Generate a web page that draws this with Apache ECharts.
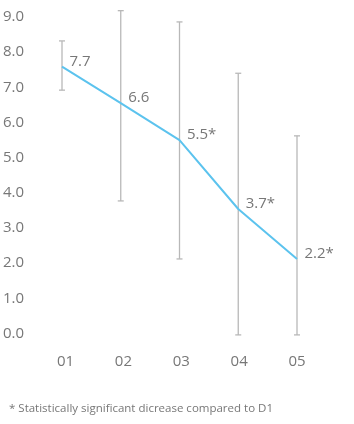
<!DOCTYPE html>
<html>
<head>
<meta charset="utf-8">
<script src="https://cdn.jsdelivr.net/npm/echarts@6/dist/echarts.min.js"></script>
<style>
html,body{margin:0;padding:0;background:#fff;}
#chart{width:354px;height:424px;}
</style>
</head>
<body>
<div id="chart"></div>
<script>
var categories = ['01', '02', '03', '04', '05'];
var means = [7.59, 6.55, 5.5, 3.54, 2.12];
var meanLabels = ['7.7', '6.6', '5.5*', '3.7*', '2.2*'];
var errLow = [6.92, 3.77, 2.12, -0.04, -0.04];
var errHigh = [8.32, 9.18, 8.86, 7.4, 5.62];
var yTicks = [0, 1, 2, 3, 4, 5, 6, 7, 8, 9];
var footnote = '* Statistically significant dicrease compared to D1';

var textColor = '#777777';
var font = 'Open Sans';

var errData = categories.map(function (c, i) { return [i, errLow[i], errHigh[i]]; });

var chart = echarts.init(document.getElementById('chart'), null, {renderer: 'canvas'});
chart.setOption({
  animation: false,
  backgroundColor: '#ffffff',
  grid: [
    {left: 62, right: 57, top: 17, bottom: 90.5},
    {left: 65.5, right: 57, top: 17, bottom: 90.5}
  ],
  xAxis: [
    {
      type: 'category',
      gridIndex: 0,
      data: categories,
      boundaryGap: false,
      axisLine: {show: false},
      axisTick: {show: false},
      splitLine: {show: false},
      axisLabel: {show: false}
    },
    {
      type: 'category',
      gridIndex: 1,
      data: categories,
      boundaryGap: false,
      axisLine: {show: false},
      axisTick: {show: false},
      splitLine: {show: false},
      axisLabel: {color: textColor, fontFamily: font, fontSize: 15, margin: 21}
    }
  ],
  yAxis: [
    {
      type: 'value',
      gridIndex: 0,
      min: yTicks[0],
      max: yTicks[yTicks.length - 1],
      interval: 1,
      axisLine: {show: false},
      axisTick: {show: false},
      splitLine: {show: false},
      axisLabel: {
        color: textColor, fontFamily: font, fontSize: 15, align: 'left', margin: 59,
        formatter: function (v) { return v.toFixed(1); }
      }
    },
    {
      type: 'value',
      gridIndex: 1,
      min: yTicks[0],
      max: yTicks[yTicks.length - 1],
      show: false
    }
  ],
  series: [
    {
      type: 'custom',
      xAxisIndex: 0,
      yAxisIndex: 0,
      clip: false,
      z: 1,
      data: errData,
      renderItem: function (params, api) {
        var x = api.value(0);
        var lo = api.coord([x, api.value(1)]);
        var hi = api.coord([x, api.value(2)]);
        var w = 3;
        var style = {stroke: '#b8b8b8', lineWidth: 1.3, fill: null};
        return {
          type: 'group',
          children: [
            {type: 'line', shape: {x1: lo[0], y1: lo[1], x2: hi[0], y2: hi[1]}, style: style},
            {type: 'line', shape: {x1: lo[0] - w, y1: lo[1], x2: lo[0] + w, y2: lo[1]}, style: style},
            {type: 'line', shape: {x1: hi[0] - w, y1: hi[1], x2: hi[0] + w, y2: hi[1]}, style: style}
          ]
        };
      }
    },
    {
      type: 'line',
      xAxisIndex: 0,
      yAxisIndex: 0,
      z: 2,
      data: means,
      symbol: 'circle',
      symbolSize: 1,
      showSymbol: true,
      itemStyle: {color: 'rgba(0,0,0,0)', borderWidth: 0},
      lineStyle: {color: '#5cc3ee', width: 2},
      label: {
        show: true,
        position: 'right',
        distance: 5,
        offset: [2, -5],
        color: textColor,
        fontFamily: font,
        fontSize: 15,
        formatter: function (p) { return meanLabels[p.dataIndex]; }
      }
    }
  ],
  graphic: [
    {
      type: 'text',
      left: 9,
      top: 403,
      style: {text: footnote, fill: textColor, font: '11.5px "Open Sans"'}
    }
  ]
});
</script>
</body>
</html>
